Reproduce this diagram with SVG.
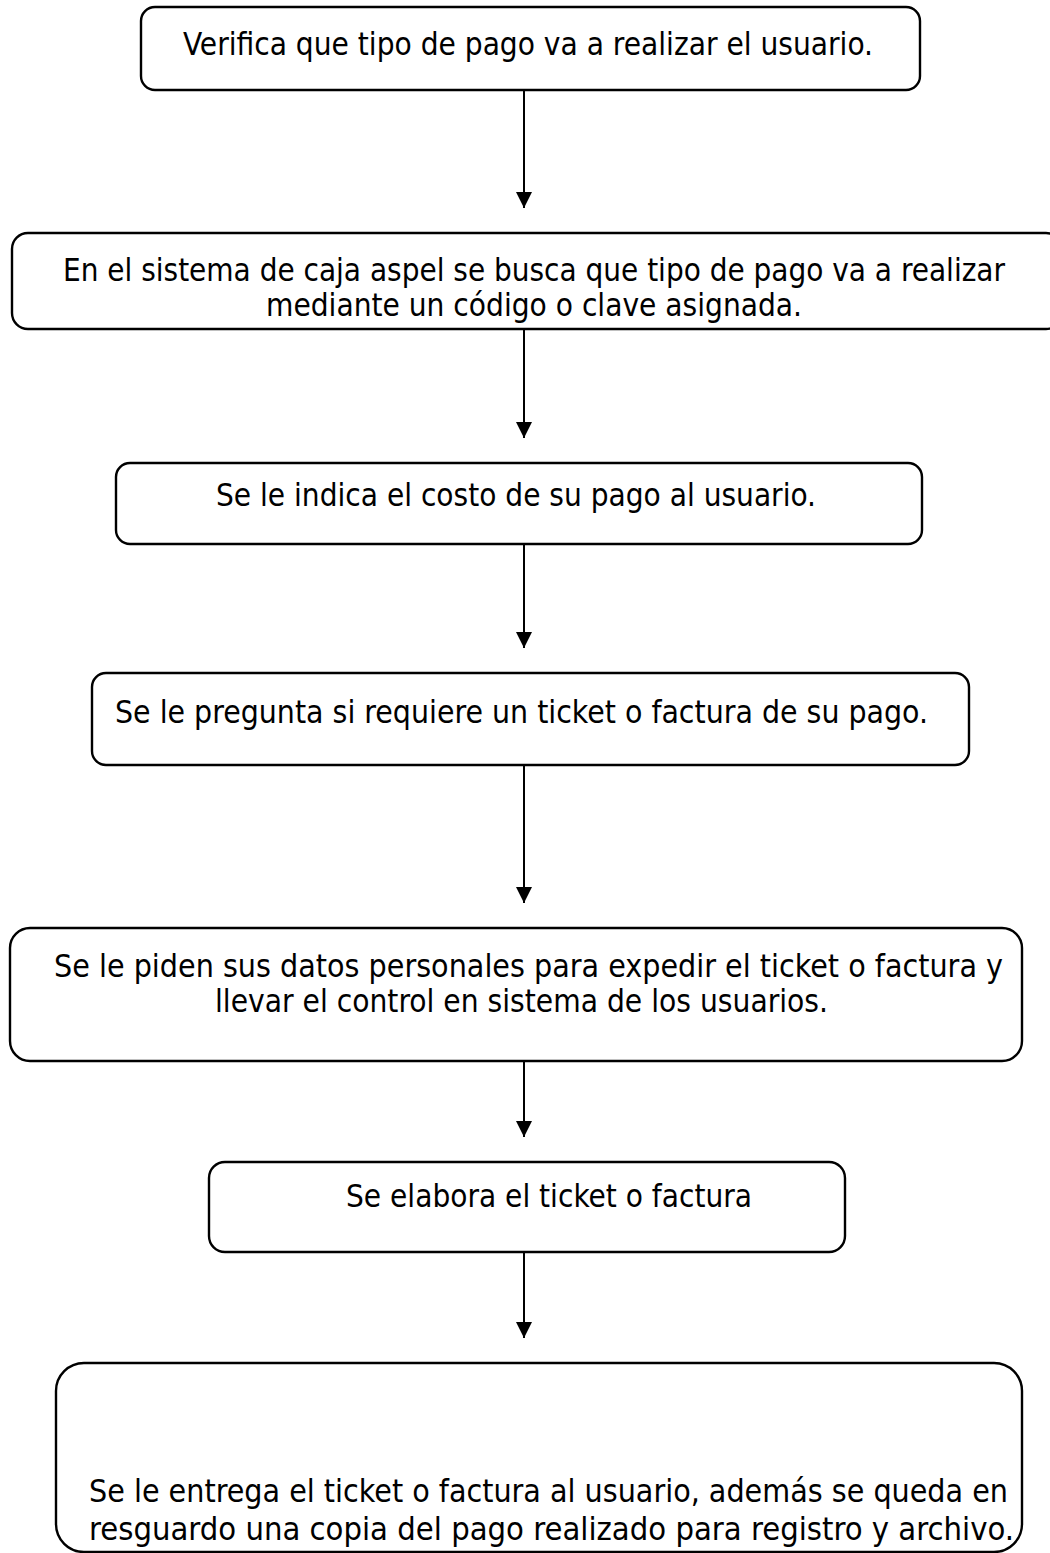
<svg xmlns="http://www.w3.org/2000/svg" width="1050" height="1553" viewBox="0 0 1050 1553">
<defs>
<style>
.box{fill:#fff;stroke:#000;stroke-width:2.4}
.t{font-family:"DejaVu Sans Condensed","DejaVu Sans",sans-serif;font-stretch:condensed;font-size:32px;fill:#000}
.c{stroke:#000;stroke-width:2;fill:none}
</style>
<marker id="ah" markerUnits="userSpaceOnUse" markerWidth="16" markerHeight="16" viewBox="0 0 16 16" refX="16" refY="8" orient="auto">
<path d="M0,0 L16,8 L0,16 Z" fill="#000"/>
</marker>
</defs>
<rect width="1050" height="1553" fill="#fff"/>
<g id="connectors">
<line class="c" x1="524" y1="90" x2="524" y2="208" marker-end="url(#ah)"/>
<line class="c" x1="524" y1="329" x2="524" y2="438" marker-end="url(#ah)"/>
<line class="c" x1="524" y1="544" x2="524" y2="648" marker-end="url(#ah)"/>
<line class="c" x1="524" y1="765" x2="524" y2="903" marker-end="url(#ah)"/>
<line class="c" x1="524" y1="1061" x2="524" y2="1137" marker-end="url(#ah)"/>
<line class="c" x1="524" y1="1252" x2="524" y2="1338" marker-end="url(#ah)"/>
</g>
<g id="n1">
<rect class="box" x="141" y="7" width="779" height="83" rx="14"/>
<text class="t" x="183" y="55" textLength="690" lengthAdjust="spacingAndGlyphs">Verifica que tipo de pago va a realizar el usuario.</text>
</g>
<g id="n2">
<rect class="box" x="12" y="233" width="1050" height="96" rx="16"/>
<text class="t" x="63" y="281" textLength="942" lengthAdjust="spacingAndGlyphs">En el sistema de caja aspel se busca que tipo de pago va a realizar</text>
<text class="t" x="266" y="316" textLength="536" lengthAdjust="spacingAndGlyphs">mediante un código o clave asignada.</text>
</g>
<g id="n3">
<rect class="box" x="116" y="463" width="806" height="81" rx="14"/>
<text class="t" x="216" y="506" textLength="600" lengthAdjust="spacingAndGlyphs">Se le indica el costo de su pago al usuario.</text>
</g>
<g id="n4">
<rect class="box" x="92" y="673" width="877" height="92" rx="14"/>
<text class="t" x="115" y="723" textLength="813" lengthAdjust="spacingAndGlyphs">Se le pregunta si requiere un ticket o factura de su pago.</text>
</g>
<g id="n5">
<rect class="box" x="10" y="928" width="1012" height="133" rx="20"/>
<text class="t" x="54" y="977" textLength="949" lengthAdjust="spacingAndGlyphs">Se le piden sus datos personales para expedir el ticket o factura y</text>
<text class="t" x="215" y="1012" textLength="613" lengthAdjust="spacingAndGlyphs">llevar el control en sistema de los usuarios.</text>
</g>
<g id="n6">
<rect class="box" x="209" y="1162" width="636" height="90" rx="16"/>
<text class="t" x="346" y="1207" textLength="406" lengthAdjust="spacingAndGlyphs">Se elabora el ticket o factura</text>
</g>
<g id="n7">
<rect class="box" x="56" y="1363" width="966" height="189" rx="28"/>
<text class="t" x="89" y="1502" textLength="919" lengthAdjust="spacingAndGlyphs">Se le entrega el ticket o factura al usuario, además se queda en</text>
<text class="t" x="89" y="1540" textLength="925" lengthAdjust="spacingAndGlyphs">resguardo una copia del pago realizado para registro y archivo.</text>
</g>
</svg>
